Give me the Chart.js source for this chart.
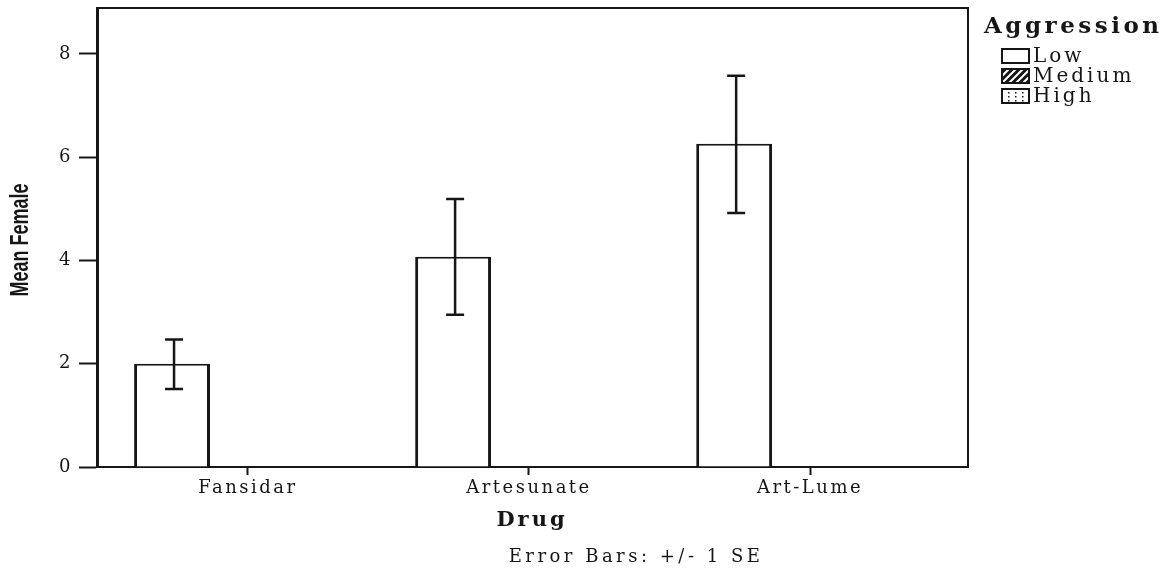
<!DOCTYPE html>
<html>
<head>
<meta charset="utf-8">
<script src="https://cdn.jsdelivr.net/npm/chart.js@4"></script>
<style>
  html, body { margin: 0; padding: 0; background: #fff; }
  #wrap { width: 1174px; height: 569px; }
</style>
</head>
<body>
<div id="wrap"><canvas id="chart" width="1174" height="569"></canvas></div>
<script>
// chart values
const drugs = ["Fansidar", "Artesunate", "Art-Lume"];
const drugPos = [1, 2, 3];
const lowMeans = [2.0, 4.07, 6.26];
const lowSeLower = [1.51, 2.95, 4.92];
const lowSeUpper = [2.47, 5.19, 7.58];
const mediumMeans = [0, 0, 0];
const highMeans = [0, 0, 0];
const yTicks = [0, 2, 4, 6, 8];
const legendItems = ["Low", "Medium", "High"];

const serif = "'DejaVu Serif', 'Liberation Serif', serif";
const narrow = "'Liberation Sans Narrow', 'Liberation Sans', sans-serif";
const ink = "#161616";

function toPoints(values) {
  return values.map((v, i) => ({ x: drugPos[i], y: v }));
}

// letter spacing to mimic the wide print of the original
const spacingPlugin = {
  id: "spacing",
  beforeDraw(chart) {
    chart.ctx.letterSpacing = "2.5px";
  },
  afterDraw(chart) {
    chart.ctx.letterSpacing = "0px";
  },
};

// error bars (+/- 1 SE) on the Low bars
const errorBars = {
  id: "errorBars",
  afterDatasetsDraw(chart) {
    const ctx = chart.ctx;
    const y = chart.scales.y;
    const meta = chart.getDatasetMeta(0);
    ctx.save();
    ctx.strokeStyle = ink;
    ctx.lineWidth = 2.5;
    meta.data.forEach((bar, i) => {
      const x = bar.x + 2;
      const top = y.getPixelForValue(lowSeUpper[i]);
      const bot = y.getPixelForValue(lowSeLower[i]);
      ctx.beginPath();
      ctx.moveTo(x, top);
      ctx.lineTo(x, bot);
      ctx.moveTo(x - 9, top);
      ctx.lineTo(x + 9, top);
      ctx.moveTo(x - 9, bot);
      ctx.lineTo(x + 9, bot);
      ctx.stroke();
    });
    ctx.restore();
  },
};

// frame, titles and legend
const decorations = {
  id: "decorations",
  afterDraw(chart) {
    const ctx = chart.ctx;
    const a = chart.chartArea;
    ctx.save();
    ctx.strokeStyle = ink;
    ctx.lineWidth = 2;
    ctx.beginPath();
    ctx.moveTo(a.left, a.top);
    ctx.lineTo(a.right, a.top);
    ctx.lineTo(a.right, a.bottom);
    ctx.stroke();

    // y axis title, tall narrow letters
    ctx.save();
    ctx.letterSpacing = "0px";
    ctx.fillStyle = ink;
    ctx.translate(21, 240);
    ctx.rotate(-Math.PI / 2);
    ctx.scale(1, 1.4);
    ctx.textAlign = "center";
    ctx.textBaseline = "middle";
    ctx.font = "bold 18px " + narrow;
    ctx.fillText("Mean Female", 0, 0);
    ctx.restore();

    ctx.fillStyle = ink;
    ctx.letterSpacing = "3px";
    ctx.textAlign = "center";
    ctx.textBaseline = "middle";
    ctx.font = "bold 21px " + serif;
    ctx.fillText("Drug", 532, 521);
    ctx.letterSpacing = "3.5px";
    ctx.font = "18px " + serif;
    ctx.fillText("Error Bars: +/- 1 SE", 636, 557);

    // legend
    ctx.textAlign = "left";
    ctx.letterSpacing = "3.5px";
    ctx.font = "bold 23px " + serif;
    ctx.fillText("Aggression", 984, 27);
    ctx.letterSpacing = "3px";
    ctx.font = "20px " + serif;
    legendItems.forEach((name, i) => {
      const by = 49 + i * 20;
      const bx = 1002;
      const w = 27, h = 14;
      ctx.lineWidth = 2;
      ctx.fillStyle = "#fff";
      ctx.fillRect(bx, by, w, h);
      if (i === 1) {
        ctx.save();
        ctx.beginPath();
        ctx.rect(bx, by, w, h);
        ctx.clip();
        ctx.fillStyle = ink;
        ctx.fillRect(bx, by, w, h);
        ctx.strokeStyle = "#fff";
        ctx.lineWidth = 2;
        for (let k = -h; k < w + h; k += 7) {
          ctx.beginPath();
          ctx.moveTo(bx + k, by + h);
          ctx.lineTo(bx + k + h, by);
          ctx.stroke();
        }
        ctx.restore();
      }
      if (i === 2) {
        ctx.fillStyle = ink;
        for (let dx = 6; dx < w; dx += 7) {
          for (let dy = 3; dy < h; dy += 4) {
            ctx.fillRect(bx + dx, by + dy, 1.5, 1.5);
          }
        }
      }
      ctx.strokeStyle = ink;
      ctx.lineWidth = 2;
      ctx.strokeRect(bx, by, w, h);
      ctx.fillStyle = ink;
      ctx.fillText(name, bx + 31, by + 8);
    });
    ctx.restore();
  },
};

const ctx = document.getElementById("chart").getContext("2d");
new Chart(ctx, {
  type: "bar",
  data: {
    datasets: [
      {
        label: "Low",
        data: toPoints(lowMeans),
        backgroundColor: "#ffffff",
        borderColor: ink,
        borderWidth: { top: 2, left: 3, right: 3, bottom: 0 },
        borderSkipped: false,
      },
      {
        label: "Medium",
        data: toPoints(mediumMeans),
        backgroundColor: ink,
        borderWidth: 0,
      },
      {
        label: "High",
        data: toPoints(highMeans),
        backgroundColor: "#ffffff",
        borderWidth: 0,
      },
    ],
  },
  options: {
    responsive: false,
    animation: false,
    events: [],
    categoryPercentage: 0.81,
    barPercentage: 1.0,
    layout: { padding: { left: 0, top: 8, right: 206, bottom: 0 } },
    plugins: {
      legend: { display: false },
      tooltip: { enabled: false },
    },
    scales: {
      x: {
        type: "linear",
        offset: false,
        min: 0.463,
        max: 3.562,
        afterBuildTicks(scale) {
          scale.ticks = drugPos.map((v) => ({ value: v }));
        },
        afterFit(scale) {
          scale.height = 102;
          scale.paddingLeft = 0;
          scale.paddingRight = 0;
        },
        grid: {
          offset: false,
          drawOnChartArea: false,
          drawTicks: true,
          tickLength: 8,
          tickWidth: 2,
          tickColor: ink,
        },
        border: { display: true, color: ink, width: 2 },
        ticks: {
          color: ink,
          font: { family: serif, size: 18 },
          padding: 3,
          maxRotation: 0,
          callback: (v) => drugs[drugPos.indexOf(v)],
        },
      },
      y: {
        min: 0,
        max: 8.89,
        afterBuildTicks(scale) {
          scale.ticks = yTicks.map((v) => ({ value: v }));
        },
        afterFit(scale) {
          scale.width = 97;
          scale.paddingTop = 0;
          scale.paddingBottom = 0;
        },
        grid: {
          drawOnChartArea: false,
          drawTicks: true,
          tickLength: 18,
          tickWidth: 2,
          tickColor: ink,
        },
        border: { display: true, color: ink, width: 3 },
        ticks: {
          color: ink,
          font: { family: serif, size: 18 },
          padding: 6,
        },
      },
    },
  },
  plugins: [spacingPlugin, errorBars, decorations],
});
</script>
</body>
</html>
